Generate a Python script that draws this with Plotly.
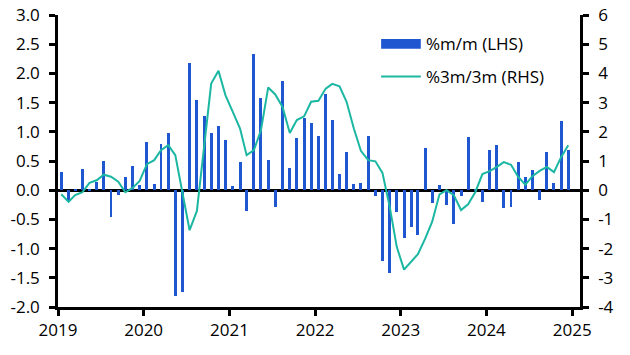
import plotly.graph_objects as go
import pandas as pd

# Monthly dates (mid-month), Jan 2019 – Dec 2024
months = pd.date_range("2019-01-01", periods=72, freq="MS") + pd.Timedelta(days=14)

mm = [0.31, -0.18, 0.02, 0.36, 0.02, 0.14, 0.50, -0.46, -0.08, 0.22, 0.41, 0.09,
      0.82, 0.10, 0.79, 0.98, -1.81, -1.75, 2.18, 1.54, 1.27, 0.98, 1.10, 0.86,
      0.07, 0.48, -0.35, 2.33, 1.58, 0.51, -0.29, 1.87, 0.38, 0.89, 1.23, 1.15,
      0.93, 1.65, 1.20, 0.27, 0.65, 0.10, 0.12, 0.93, -0.10, -1.22, -1.41, -0.38,
      -0.82, -0.63, -0.77, 0.72, -0.22, 0.09, -0.26, -0.58, -0.10, 0.91, 0.02, -0.21,
      0.69, 0.77, -0.31, -0.29, 0.48, 0.22, 0.34, -0.17, 0.65, 0.12, 1.18, 0.69]

m3m3 = [-0.14, -0.40, -0.17, -0.07, 0.25, 0.34, 0.53, 0.46, 0.29, -0.07, 0.08, 0.32,
        0.89, 1.03, 1.37, 1.54, 1.20, -0.10, -1.37, -0.71, 1.50, 3.65, 4.09, 3.25,
        2.68, 2.11, 1.20, 1.37, 2.05, 3.52, 3.28, 2.85, 1.96, 2.40, 2.53, 3.03,
        3.06, 3.48, 3.64, 3.56, 3.03, 2.11, 1.35, 1.03, 0.99, 0.59, -0.57, -1.94,
        -2.72, -2.45, -2.19, -1.66, -1.08, -0.14, 0.00, -0.17, -0.68, -0.48, -0.06, 0.55,
        0.65, 0.80, 0.96, 0.87, 0.46, 0.19, 0.48, 0.66, 0.80, 0.62, 1.14, 1.54]

left_ticks = [3.0, 2.5, 2.0, 1.5, 1.0, 0.5, 0.0, -0.5, -1.0, -1.5, -2.0]
right_ticks = [6, 5, 4, 3, 2, 1, 0, -1, -2, -3, -4]
year_ticks = ["2019", "2020", "2021", "2022", "2023", "2024", "2025"]

BAR = "#1F57D0"
LINE = "#1BB7A2"
FONT = "Open Sans"
FS = 17

fig = go.Figure()
fig.add_trace(go.Bar(x=months, y=mm, name="%m/m (LHS)", marker_color=BAR,
                     marker_line_width=0, width=12.5 * 86400000, showlegend=False,
                     yaxis="y"))
fig.add_trace(go.Scatter(x=months, y=m3m3, name="%3m/3m (RHS)", mode="lines",
                         line=dict(color=LINE, width=2), showlegend=False,
                         yaxis="y2"))

axis_common = dict(showgrid=False, showline=True, linecolor="black", linewidth=2.5,
                   ticks="outside", ticklen=6, tickwidth=2.5, tickcolor="black",
                   automargin=False,
                   tickfont=dict(family=FONT, size=FS, color="black"))

fig.update_layout(
    width=630, height=355,
    margin=dict(l=58, r=50, t=15, b=48),
    paper_bgcolor="white", plot_bgcolor="white",
    bargap=0,
    xaxis=dict(type="date", range=["2019-01-01", "2025-02-03"],
               tickvals=[f"{y}-01-01" for y in year_ticks], ticktext=year_ticks,
               zeroline=False, **axis_common),
    yaxis=dict(range=[-2, 3], tickvals=left_ticks,
               ticktext=[f"{v:.1f}" for v in left_ticks],
               zeroline=True, zerolinecolor="black", zerolinewidth=2.5,
               ticklabelstandoff=6, **axis_common),
    yaxis2=dict(range=[-4, 6], tickvals=right_ticks,
                ticktext=[str(v) for v in right_ticks],
                overlaying="y", side="right", zeroline=False,
                ticklabelstandoff=6, **axis_common),
)

# Custom legend
fig.add_shape(type="rect", xref="paper", yref="paper", x0=0.619, x1=0.695,
              y0=0.884, y1=0.918, fillcolor=BAR, line_width=0)
fig.add_shape(type="line", xref="paper", yref="paper", x0=0.619, x1=0.695,
              y0=0.789, y1=0.789, line=dict(color=LINE, width=2))
fig.add_annotation(xref="paper", yref="paper", x=0.701, y=0.903, text="%m/m (LHS)",
                   showarrow=False, xanchor="left", yanchor="middle",
                   font=dict(family=FONT, size=FS, color="black"))
fig.add_annotation(xref="paper", yref="paper", x=0.701, y=0.789, text="%3m/3m (RHS)",
                   showarrow=False, xanchor="left", yanchor="middle",
                   font=dict(family=FONT, size=FS, color="black"))

fig.write_html("out.html", config={"displayModeBar": False},
               post_script="document.body.style.margin='0';")
